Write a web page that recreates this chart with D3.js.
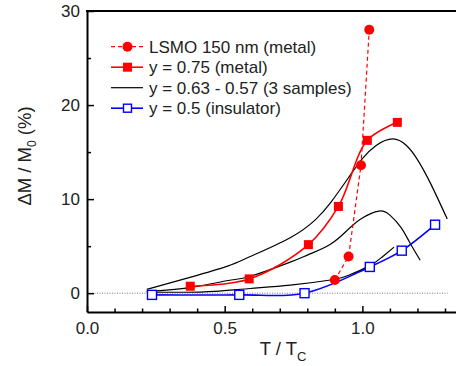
<!DOCTYPE html>
<html>
<head>
<meta charset="utf-8">
<script src="https://cdn.jsdelivr.net/npm/d3@7"></script>
<style>
  body { margin: 0; background: #fff; }
  svg { font-family: "Liberation Sans", Arial, sans-serif; }
</style>
</head>
<body>
<svg id="drawing_region"></svg>
<script>
// LSMO 150 nm film (metal), dashed
const lsmoT = [0.90, 0.95, 0.995, 1.025];
const lsmoM = [1.4, 3.9, 13.6, 28.0];
// y = 0.75 (metal)
const metalT = [0.375, 0.589, 0.804, 0.913, 1.018, 1.127];
const metalM = [0.74, 1.52, 5.16, 9.22, 16.25, 18.16];
// y = 0.5 (insulator)
const insT = [0.236, 0.553, 0.79, 1.027, 1.143, 1.264];
const insM = [-0.18, -0.18, 0.0, 2.79, 4.52, 7.28];
// y = 0.63 - 0.57, three samples (lines only)
const s1T = [0.217, 0.40, 0.513, 0.593, 0.738, 0.829, 0.884, 0.95, 1.0, 1.05, 1.11, 1.16, 1.20, 1.247, 1.308];
const s1M = [0.4, 1.9, 2.9, 3.9, 5.9, 7.8, 9.6, 12.3, 14.3, 15.7, 16.4, 15.7, 14.2, 11.7, 7.9];
const s2T = [0.217, 0.375, 0.513, 0.593, 0.738, 0.804, 0.884, 0.949, 1.0, 1.06, 1.10, 1.14, 1.17, 1.21];
const s2M = [0.2, 0.6, 1.35, 1.8, 3.3, 4.1, 5.2, 6.8, 8.0, 8.73, 8.3, 7.0, 5.5, 3.5];
const s3T = [0.217, 0.35, 0.465, 0.593, 0.738, 0.884, 0.95, 1.027, 1.07, 1.115];
const s3M = [0.1, 0.1, 0.2, 0.5, 0.85, 1.4, 1.9, 2.93, 3.8, 4.9];

const legendLabels = ["LSMO 150 nm (metal)", "y = 0.75 (metal)", "y = 0.63 - 0.57 (3 samples)", "y = 0.5 (insulator)"];
const xMajorTicks = [0.0, 0.5, 1.0];
const xMinorTicks = [0.1, 0.2, 0.3, 0.4, 0.6, 0.7, 0.8, 0.9, 1.1, 1.2, 1.3];
const yMajorTicks = [0, 10, 20, 30];
const yMinorTicks = [5, 15, 25];

const toPoints = (xs, ys) => xs.map((x, i) => ({x: x, y: ys[i]}));

class MRChart {
    constructor(config) {
        this.config = config;
        this.init();
    }

    init() {
        let self = this;
        const c = self.config;
        self.svg = d3.select(c.parent)
            .attr('width', c.width)
            .attr('height', c.height);

        self.xscale = d3.scaleLinear()
            .domain([0, 1.34])
            .range([c.margin.left, c.width - c.margin.right]);
        self.yscale = d3.scaleLinear()
            .domain([-2, 30])
            .range([c.height - c.margin.bottom, c.margin.top]);
    }

    render() {
        let self = this;
        const x = self.xscale, y = self.yscale, c = self.config;
        const red = '#ff0000', blue = '#0000ff';

        // zero reference line
        self.svg.append('line')
            .attr('x1', x(0)).attr('x2', x(1.31))
            .attr('y1', y(0)).attr('y2', y(0))
            .attr('stroke', '#555').attr('stroke-width', 0.8)
            .attr('stroke-dasharray', '1,1.5');

        const smooth = d3.line().x(d => x(d.x)).y(d => y(d.y)).curve(d3.curveCatmullRom.alpha(0.5));
        const natural = d3.line().x(d => x(d.x)).y(d => y(d.y)).curve(d3.curveNatural);
        const straight = d3.line().x(d => x(d.x)).y(d => y(d.y));

        // black samples
        [[s1T, s1M], [s2T, s2M], [s3T, s3M]].forEach(s => {
            self.svg.append('path')
                .attr('d', natural(toPoints(s[0], s[1])))
                .attr('fill', 'none').attr('stroke', '#000').attr('stroke-width', 1.2);
        });

        // insulator
        const ins = toPoints(insT, insM);
        self.svg.append('path').attr('d', smooth(ins))
            .attr('fill', 'none').attr('stroke', blue).attr('stroke-width', 1.6);
        self.svg.selectAll('.ins').data(ins).enter().append('rect')
            .attr('x', d => x(d.x) - 4.5).attr('y', d => y(d.y) - 4.5)
            .attr('width', 9).attr('height', 9)
            .attr('fill', '#fff').attr('stroke', blue).attr('stroke-width', 1.4);

        // metal y=0.75
        const metal = toPoints(metalT, metalM);
        self.svg.append('path').attr('d', smooth(metal))
            .attr('fill', 'none').attr('stroke', red).attr('stroke-width', 1.6);
        self.svg.selectAll('.metal').data(metal).enter().append('rect')
            .attr('x', d => x(d.x) - 4.5).attr('y', d => y(d.y) - 4.5)
            .attr('width', 9).attr('height', 9).attr('fill', red);

        // LSMO film
        const lsmo = toPoints(lsmoT, lsmoM);
        self.svg.append('path').attr('d', straight(lsmo))
            .attr('fill', 'none').attr('stroke', red).attr('stroke-width', 1.2)
            .attr('stroke-dasharray', '4,3');
        self.svg.selectAll('.lsmo').data(lsmo).enter().append('circle')
            .attr('cx', d => x(d.x)).attr('cy', d => y(d.y)).attr('r', 5).attr('fill', red);

        // axes
        const fmt = d3.format('.1f');
        const xg = self.svg.append('g').attr('transform', `translate(0,${c.height - c.margin.bottom})`);
        xg.call(d3.axisBottom(x).tickValues(xMajorTicks).tickFormat(fmt).tickSize(-6).tickSizeOuter(0).tickPadding(10));
        const xm = self.svg.append('g').attr('transform', `translate(0,${c.height - c.margin.bottom})`);
        xm.call(d3.axisBottom(x).tickValues(xMinorTicks).tickFormat('').tickSize(-3.5).tickSizeOuter(0));
        xm.select('.domain').remove();

        const yg = self.svg.append('g').attr('transform', `translate(${c.margin.left},0)`);
        yg.call(d3.axisLeft(y).tickValues(yMajorTicks).tickSize(-7).tickSizeOuter(0).tickPadding(7));
        const ym = self.svg.append('g').attr('transform', `translate(${c.margin.left},0)`);
        ym.call(d3.axisLeft(y).tickValues(yMinorTicks).tickFormat('').tickSize(-4).tickSizeOuter(0));
        ym.select('.domain').remove();

        [xg, yg].forEach(g => {
            g.select('.domain').attr('stroke', '#000').attr('stroke-width', 2);
            g.selectAll('text').attr('font-size', '17px').attr('fill', '#222')
                .attr('font-family', '"Liberation Sans", Arial, sans-serif');
        });
        self.svg.selectAll('.tick line').attr('stroke', '#000').attr('stroke-width', 1.5);

        // top frame line
        self.svg.append('line')
            .attr('x1', c.margin.left - 1).attr('x2', c.width)
            .attr('y1', c.margin.top).attr('y2', c.margin.top)
            .attr('stroke', '#000').attr('stroke-width', 2);

        // axis titles
        const xt = self.svg.append('text')
            .attr('x', 283).attr('y', 355)
            .attr('text-anchor', 'middle').attr('font-size', '18.5px').attr('fill', '#222');
        xt.append('tspan').text('T / T');
        xt.append('tspan').attr('font-size', '13px').attr('dy', 6).text('C');

        const yt = self.svg.append('text')
            .attr('transform', 'translate(31,156) rotate(-90)')
            .attr('text-anchor', 'middle').attr('font-size', '18.5px').attr('fill', '#222');
        yt.append('tspan').text('\u0394M / M');
        yt.append('tspan').attr('font-size', '12px').attr('dy', 5).text('0');
        yt.append('tspan').attr('dy', -5).text(' (%)');

        // legend
        const rowY = d => 46.7 + d * 20.5;
        const lg = self.svg.append('g');
        legendLabels.forEach((label, i) => {
            const yy = rowY(i);
            const line = lg.append('line').attr('x1', 111).attr('x2', 143).attr('y1', yy).attr('y2', yy);
            if (i === 0) {
                line.attr('stroke', red).attr('stroke-width', 1.2).attr('stroke-dasharray', '4,3');
                lg.append('circle').attr('cx', 127.5).attr('cy', yy).attr('r', 5).attr('fill', red);
            } else if (i === 1) {
                line.attr('stroke', red).attr('stroke-width', 1.6);
                lg.append('rect').attr('x', 123).attr('y', yy - 4.5).attr('width', 9).attr('height', 9).attr('fill', red);
            } else if (i === 2) {
                line.attr('stroke', '#000').attr('stroke-width', 1.2);
            } else {
                line.attr('stroke', blue).attr('stroke-width', 1.6);
                lg.append('rect').attr('x', 123.5).attr('y', yy - 4).attr('width', 8).attr('height', 8)
                    .attr('fill', '#fff').attr('stroke', blue).attr('stroke-width', 1.4);
            }
            lg.append('text').attr('x', 149).attr('y', yy).attr('dy', '0.36em')
                .attr('font-size', '17px').attr('fill', '#222').text(label);
        });
    }
}

const config = {
    parent: '#drawing_region',
    width: 456,
    height: 366,
    margin: {top: 11, right: 0, bottom: 54, left: 87}
};
const chart = new MRChart(config);
chart.render();
</script>
</body>
</html>
